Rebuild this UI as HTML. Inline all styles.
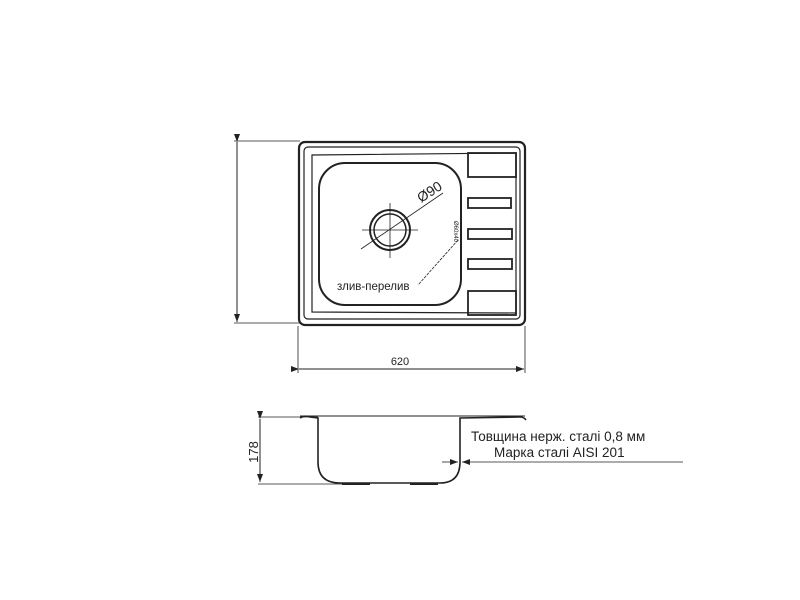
<!DOCTYPE html>
<html><head><meta charset="utf-8"><style>
html,body{margin:0;padding:0;background:#fff;width:800px;height:600px;overflow:hidden}
svg text{font-family:"Liberation Sans",sans-serif;fill:#222}
</style></head><body>
<svg width="800" height="600" viewBox="0 0 800 600" xmlns="http://www.w3.org/2000/svg">
<defs><marker id="a" markerWidth="8" markerHeight="6" refX="8" refY="3" orient="auto" markerUnits="userSpaceOnUse"><path d="M0,0 L8,3 L0,6 z" fill="#222"/></marker></defs>
<g fill="none" stroke="#222">
<line x1="237" y1="142" x2="237" y2="322" stroke-width="1" marker-start="url(#a)" marker-end="url(#a)"/>
<line x1="234" y1="141" x2="300" y2="141" stroke-width="0.8"/>
<line x1="234" y1="323" x2="300" y2="323" stroke-width="0.8"/>
<line x1="298" y1="326" x2="298" y2="373" stroke-width="0.8"/>
<line x1="525" y1="326" x2="525" y2="373" stroke-width="0.8"/>
<line x1="299" y1="369" x2="524" y2="369" stroke-width="1" marker-start="url(#a)" marker-end="url(#a)"/>
<rect x="299" y="142" width="226" height="183" rx="6" stroke-width="2.2"/>
<rect x="304" y="147" width="216" height="172" rx="4" stroke-width="1.2"/>
<path d="M312 155 L516 153 L516 313 L312 312 Z" stroke-width="1.2"/>
<rect x="319" y="163" width="142" height="142" rx="26" stroke-width="2"/>
<rect x="468" y="153" width="48" height="24" stroke-width="1.8"/>
<rect x="468" y="198" width="43" height="10" stroke-width="1.8"/>
<rect x="468" y="229" width="44" height="10" stroke-width="1.8"/>
<rect x="468" y="259" width="44" height="10" stroke-width="1.8"/>
<rect x="468" y="291" width="48" height="24" stroke-width="1.8"/>
<circle cx="390" cy="230" r="20" stroke-width="2"/>
<circle cx="390" cy="230" r="16" stroke-width="1.5"/>
<line x1="362" y1="230" x2="418" y2="230" stroke-width="0.8"/>
<line x1="390" y1="203" x2="390" y2="258" stroke-width="0.8"/>
<line x1="361" y1="249" x2="443" y2="193" stroke-width="0.8"/>
<line x1="458" y1="240" x2="418" y2="285" stroke-width="0.8" stroke-dasharray="3,1"/>
<path d="M300 418 Q305 415 310 417 L318 418 L318 462 Q318 483 340 483 L440 483 Q460 483 460 462 L460 418 L520 417 Q524 417 526 420" stroke-width="1.6"/>
<line x1="300" y1="416" x2="525" y2="416" stroke-width="1"/>
<line x1="342" y1="484" x2="370" y2="484" stroke-width="2"/>
<line x1="410" y1="484" x2="438" y2="484" stroke-width="2"/>
<line x1="260" y1="419" x2="260" y2="482" stroke-width="1" marker-start="url(#a)" marker-end="url(#a)"/>
<line x1="258" y1="417" x2="318" y2="417" stroke-width="0.8"/>
<line x1="258" y1="484" x2="345" y2="484" stroke-width="0.8"/>
<line x1="442" y1="462" x2="458" y2="462" stroke-width="0.8" marker-end="url(#a)"/>
<line x1="683" y1="462" x2="462" y2="462" stroke-width="0.8" marker-end="url(#a)"/>
</g>
<text x="400" y="365" font-size="11" text-anchor="middle">620</text>
<text x="337" y="290" font-size="11.5">злив-перелив</text>
<text x="421" y="203" font-size="14" transform="rotate(-33 421 203)">Ø90</text>
<text x="454" y="221" font-size="6" transform="rotate(90 454 221)">Ø60x40</text>
<text x="258" y="452" font-size="13" text-anchor="middle" transform="rotate(-90 258 452)">178</text>
<text x="471" y="441" font-size="13.5">Товщина нерж. сталі 0,8 мм</text>
<text x="494" y="457" font-size="13.5">Марка сталі AISI 201</text>
</svg>
</body></html>
